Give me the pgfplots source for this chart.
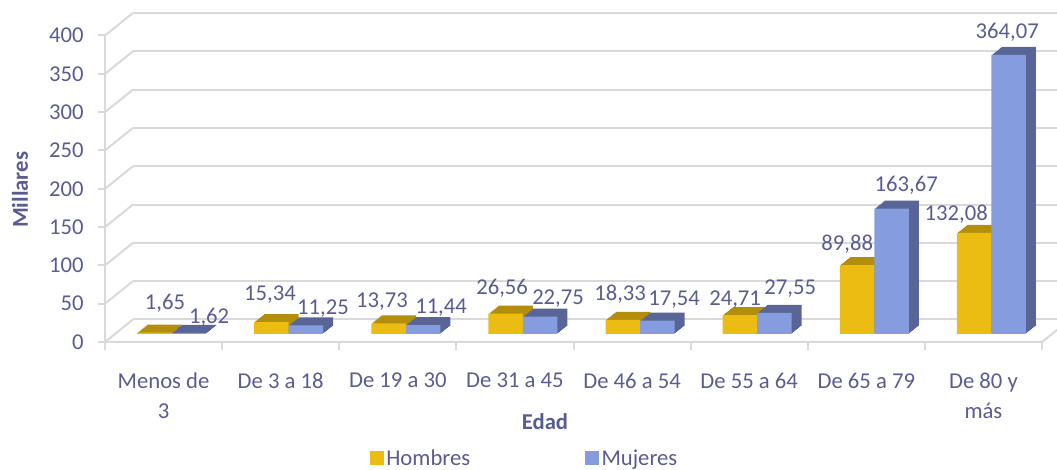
\documentclass[border=0pt]{standalone}
\usepackage{fontspec}
\setmainfont{Carlito}
\usepackage{pgfplots}
\usepackage{pgfplotstable}
\pgfplotsset{compat=1.18}
\definecolor{txt}{RGB}{90,92,145}
\definecolor{yel}{RGB}{235,188,18}
\definecolor{yeld}{RGB}{178,142,12}
\definecolor{blu}{RGB}{133,157,222}
\definecolor{blud}{RGB}{88,101,150}
\definecolor{grd}{RGB}{217,217,217}

\pgfplotstableread{
x v lab dx dy
0 1.65 1,65 8.0 23.0
1 15.34 15,34 -1.05 21.9
2 13.73 13,73 -4.9 17.6
3 26.56 26,56 -2.7 20.0
4 18.33 18,33 -2.0 20.3
5 24.71 24,71 -3.6 12.8
6 89.88 89,88 -7.4 16.6
7 132.08 132,08 -13.5 14.9
}\hombres
\pgfplotstableread{
x v lab dx dy
0 1.62 1,62 15.2 12.6
1 11.25 11,25 12.8 13.8
2 11.44 11,44 13.5 14.4
3 22.75 22,75 13.4 14.7
4 17.54 17,54 12.6 17.0
5 27.55 27,55 11.8 19.4
6 163.67 163,67 11.0 18.5
7 364.07 364,07 -1.1 18.0
}\mujeres

\newcommand{\cf}{\fontsize{17}{22.5}\selectfont}

\begin{document}
\begin{tikzpicture}
\path[use as bounding box] (0pt,0pt) rectangle (792.75pt,352.5pt);
\begin{axis}[
  at={(84.75pt,102pt)}, anchor=south west,
  scale only axis, width=702.75pt, height=229.9pt,
  xmin=-0.5, xmax=7.5, ymin=0, ymax=400,
  clip=false,
  axis line style={draw=none},
  major tick length=0pt,
  /pgf/number format/assume math mode=true,
  xtick={0,...,7},
  xticklabels={{Menos de\\3},{De 3 a 18},{De 19 a 30},{De 31 a 45},{De 46 a 54},{De 55 a 64},{De 65 a 79},{De 80 y\\más}},
  xticklabel style={align=center, anchor=north, yshift=-25.5pt, xshift=-6pt, font=\cf, text=txt},
  ytick={0,50,...,400},
  yticklabel style={anchor=east, xshift=-18.5pt, yshift=-6pt, font=\cf, text=txt},
  xlabel={Edad},
  xlabel style={at={(axis description cs:0.461,0)}, anchor=base, yshift=-72pt, font=\cf\bfseries, text=txt},
  ylabel={Millares},
  ylabel style={at={(axis description cs:-0.0993,0.47)}, anchor=center, rotate=0, font=\cf\bfseries, text=txt},
  legend columns=2,
  legend style={at={(0.4395,-0.406)}, anchor=center, draw=none, fill=none, font=\cf, text=txt,
    /tikz/every even column/.append style={column sep=84pt}},
  shadowY/.style={ybar, bar width=25.9pt, fill=yeld, draw=none, forget plot},
  shadowB/.style={ybar, bar width=25.9pt, fill=blud, draw=none, forget plot},
]
% back wall gridlines, left wall and front plane
\pgfplotsinvokeforeach{0,50,...,400}{
  \draw[grd, line width=1.5pt] ([xshift=15pt,yshift=10.9pt]axis cs:-0.5,#1) -- ([xshift=40pt,yshift=10.9pt]axis cs:7.5,#1);
  \draw[grd, line width=1.5pt] ([xshift=-6pt,yshift=-6pt]axis cs:-0.5,#1) -- ([xshift=15pt,yshift=10.9pt]axis cs:-0.5,#1);
  \draw[grd, line width=1.5pt] ([xshift=-6pt,yshift=-6pt]axis cs:-0.5,#1) -- ([xshift=-11.25pt,yshift=-6pt]axis cs:-0.5,#1);
}
\draw[grd, line width=1.5pt] ([xshift=-6pt,yshift=-6pt]axis cs:-0.5,0) -- ([xshift=-6pt,yshift=-6pt]axis cs:-0.5,400);
\draw[grd, line width=1.5pt] ([xshift=-6pt,yshift=-6pt]axis cs:-0.5,0) -- ([xshift=-6pt,yshift=-6pt]axis cs:7.5,0) -- ([xshift=15pt,yshift=10.9pt]axis cs:7.5,0);
\pgfplotsinvokeforeach{-0.5,0.5,1.5,2.5,3.5,4.5,5.5,6.5,7.5}{
  \draw[grd, line width=1.5pt] ([xshift=-6pt,yshift=-6pt]axis cs:#1,0) -- ([xshift=-6pt,yshift=-12pt]axis cs:#1,0);
}
% depth (sides and tops), stepped to mimic the oblique extrusion
\pgfplotsinvokeforeach{8,7,6,5,4,3,2,1}{
  \addplot[shadowY, bar shift={-12.94pt+#1*0.9375pt}, yshift={#1*0.75pt}] table[x=x,y=v]{\hombres};
}
\pgfplotsinvokeforeach{8,7,6,5,4,3,2,1}{
  \addplot[shadowB, bar shift={12.94pt+#1*0.9375pt}, yshift={#1*0.75pt}] table[x=x,y=v]{\mujeres};
}
% front faces
\addplot[ybar, bar width=25.9pt, bar shift=-12.94pt, fill=yel, draw=none,
  legend image code/.code={\fill[yel] (0pt,-5.25pt) rectangle (10.5pt,5.25pt);},
  point meta=explicit symbolic,
  visualization depends on={\thisrow{dx} \as \labdx},
  visualization depends on={\thisrow{dy} \as \labdy},
  nodes near coords,
  every node near coord/.append style={anchor=center, text depth=0pt, font=\cf, text=txt, xshift=\labdx pt-12.94pt, yshift=\labdy pt}]
  table[x=x,y=v,meta=lab]{\hombres};
\addplot[ybar, bar width=25.9pt, bar shift=12.94pt, fill=blu, draw=none,
  legend image code/.code={\fill[blu] (0pt,-5.25pt) rectangle (10.5pt,5.25pt);},
  point meta=explicit symbolic,
  visualization depends on={\thisrow{dx} \as \labdx},
  visualization depends on={\thisrow{dy} \as \labdy},
  nodes near coords,
  every node near coord/.append style={anchor=center, text depth=0pt, font=\cf, text=txt, xshift=\labdx pt+12.94pt, yshift=\labdy pt}]
  table[x=x,y=v,meta=lab]{\mujeres};
\legend{Hombres,Mujeres}
\end{axis}
\end{tikzpicture}
\end{document}
